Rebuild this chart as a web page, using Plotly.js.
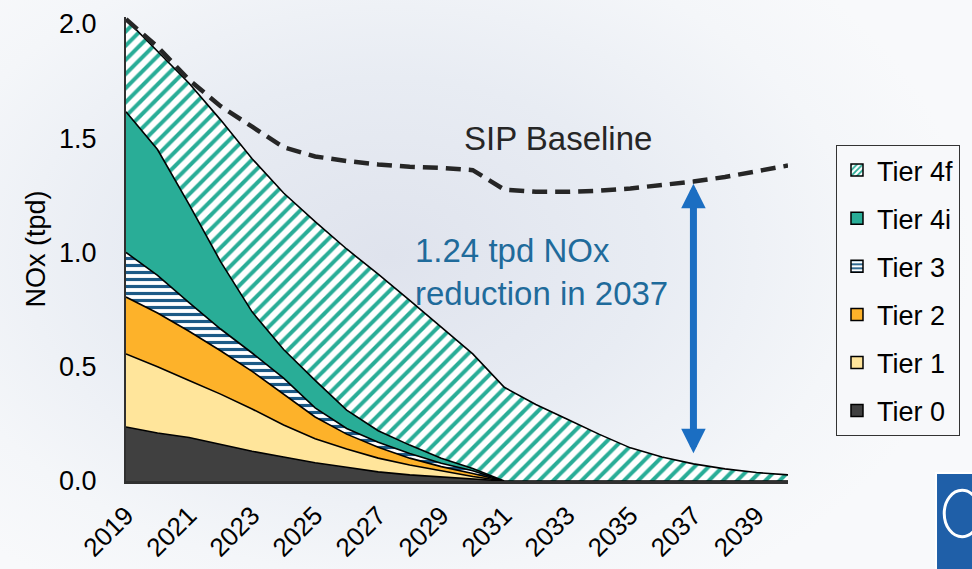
<!DOCTYPE html>
<html>
<head>
<meta charset="utf-8">
<script src="https://cdn.plot.ly/plotly-3.0.1.min.js"></script>
<style>
  html, body { margin: 0; padding: 0; }
  body {
    width: 972px; height: 569px; overflow: hidden;
    background: radial-gradient(ellipse 60% 70% at 40% 45%, #dfe3ed 0%, #e8ecf3 45%, #f4f6f9 80%, #f8f9fb 100%);
  }
  #chart { width: 972px; height: 569px; }
</style>
</head>
<body>
<div id="chart"></div>
<script>
// ---- data ----
const years = [2019,2020,2021,2022,2023,2024,2025,2026,2027,2028,2029,2030,
               2031,2032,2033,2034,2035,2036,2037,2038,2039,2040];
const tickYears = [2019,2021,2023,2025,2027,2029,2031,2033,2035,2037,2039];
const yTicks = [0, 0.5, 1.0, 1.5, 2.0];

const tier0  = [0.236,0.21,0.19,0.16,0.13,0.105,0.08,0.06,0.04,0.027,0.018,0.01,0,0,0,0,0,0,0,0,0,0];
const tier1  = [0.32,0.29,0.25,0.22,0.185,0.14,0.105,0.08,0.06,0.043,0.027,0.01,0,0,0,0,0,0,0,0,0,0];
const tier2  = [0.249,0.235,0.215,0.19,0.165,0.135,0.095,0.065,0.048,0.03,0.018,0.013,0,0,0,0,0,0,0,0,0,0];
const tier3  = [0.195,0.165,0.125,0.095,0.08,0.07,0.04,0.025,0.022,0.02,0.015,0.012,0,0,0,0,0,0,0,0,0,0];
const tier4i = [0.615,0.55,0.43,0.295,0.18,0.125,0.12,0.08,0.05,0.037,0.022,0.01,0,0,0,0,0,0,0,0,0,0];
const tier4f = [0.405,0.43,0.53,0.62,0.67,0.685,0.695,0.705,0.685,0.633,0.575,0.501,0.41,0.335,0.27,0.205,0.145,0.105,0.075,0.053,0.037,0.027];
const sipBaseline = [2.02,1.90,1.755,1.64,1.55,1.46,1.42,1.40,1.385,1.375,1.37,1.36,1.275,1.265,1.265,1.27,1.28,1.295,1.31,1.33,1.355,1.38];

const arrowYear = 2037;
const arrowTop = 1.30;
const arrowBottom = 0.115;

// ---- styles ----
const FONT = 'Liberation Sans, Arial, sans-serif';
const TEAL = '#29ad97';
const NAVY = '#1c5a86';
const ORANGE = '#fdb22a';
const LIGHTY = '#ffe59b';
const DARK = '#404040';

const tiers = [
  {name: 'Tier 0',  y: tier0,  color: DARK},
  {name: 'Tier 1',  y: tier1,  color: LIGHTY},
  {name: 'Tier 2',  y: tier2,  color: ORANGE},
  {name: 'Tier 3',  y: tier3,  color: '#ffffff', pattern: {shape: '-', fgcolor: NAVY, bgcolor: '#ffffff', size: 7, solidity: 0.45}},
  {name: 'Tier 4i', y: tier4i, color: TEAL},
  {name: 'Tier 4f', y: tier4f, color: '#ffffff', pattern: {shape: '/', fgcolor: TEAL, bgcolor: '#ffffff', size: 10, solidity: 0.4}}
];

const traces = [];
tiers.forEach(t => {
  const tr = {
    type: 'scatter', mode: 'lines', x: years, y: t.y, name: t.name,
    stackgroup: 'one', line: {color: '#000000', width: 1.6},
    fillcolor: t.color, showlegend: false, hoverinfo: 'skip'
  };
  if (t.pattern) tr.fillpattern = t.pattern;
  traces.push(tr);
});

traces.push({
  type: 'scatter', mode: 'lines', x: years, y: sipBaseline, name: 'SIP Baseline',
  line: {color: '#262626', width: 4.5, dash: '15px,8px'}, showlegend: false
});

// legend entries (square swatches; no bar is drawn since the value is empty), top tier first
tiers.slice().reverse().forEach((t, i) => {
  const m = {color: t.color, line: {color: '#000000', width: 1.5}};
  if (t.pattern) m.pattern = {shape: t.pattern.shape, fgcolor: t.pattern.fgcolor, bgcolor: '#ffffff', size: 5, solidity: 0.45};
  traces.push({type: 'bar', x: [years[0]], y: [null], name: t.name, marker: m,
               legendgroup: 'g' + i, legendrank: i + 1, showlegend: true, hoverinfo: 'skip'});
});

const layout = {
  width: 972, height: 569,
  margin: {l: 126, r: 184, t: 17, b: 88},
  paper_bgcolor: 'rgba(0,0,0,0)', plot_bgcolor: 'rgba(0,0,0,0)',
  font: {family: FONT, color: '#000000'},
  showlegend: true,
  xaxis: {
    type: 'linear', range: [2019, 2040], tickvals: tickYears, ticktext: tickYears.map(String),
    tickangle: -45, tickfont: {size: 26, family: FONT, color: '#000'},
    ticks: 'outside', ticklen: 6, tickcolor: 'rgba(0,0,0,0)',
    showgrid: false, zeroline: false, showline: true, linecolor: '#303030', linewidth: 3
  },
  yaxis: {
    range: [0, 2.03], tickvals: yTicks, tickformat: '.1f',
    tickfont: {size: 27, family: FONT, color: '#000'},
    ticks: 'outside', ticklen: 22, tickcolor: 'rgba(0,0,0,0)',
    showgrid: false, zeroline: false, showline: true, linecolor: '#303030', linewidth: 2,
    title: {text: 'NOx (tpd)', font: {size: 27, family: FONT, color: '#000'}, standoff: 6}
  },
  legend: {
    x: 1.0725, y: 0.724, xanchor: 'left', yanchor: 'top',
    bgcolor: '#f7f8fa', bordercolor: '#333333', borderwidth: 1,
    font: {size: 27, family: FONT, color: '#000'},
    traceorder: 'grouped', tracegroupgap: 10, itemwidth: 30
  },
  annotations: [
    {x: 2032.7, y: 1.50, xref: 'x', yref: 'y', text: 'SIP Baseline', showarrow: false,
     font: {size: 33, family: FONT, color: '#262626'}},
    {x: 2028.1, y: 0.915, xref: 'x', yref: 'y', text: '1.24 tpd NOx<br>reduction in 2037',
     showarrow: false, xanchor: 'left', yanchor: 'middle', align: 'left',
     font: {size: 33, family: FONT, color: '#1f6b9b'}},
    {x: arrowYear, y: arrowTop, ax: arrowYear, ay: arrowBottom, xref: 'x', yref: 'y', axref: 'x', ayref: 'y',
     text: '', showarrow: true, arrowhead: 2, startarrowhead: 2, arrowside: 'end+start',
     arrowwidth: 7, arrowsize: 0.7, startarrowsize: 0.7, arrowcolor: '#1b6ec2', standoff: 0, startstandoff: 0}
  ],
  shapes: [
    {type: 'rect', xref: 'paper', yref: 'paper', x0: 1.2236, x1: 1.32, y0: -0.25, y1: 0.017,
     fillcolor: '#1f5fa8', line: {color: '#ffffff', width: 2}, layer: 'above'},
    {type: 'circle', xref: 'paper', yref: 'paper', x0: 1.236, x1: 1.29, y0: -0.12, y1: -0.02,
     line: {color: '#ffffff', width: 3}, layer: 'above'}
  ]
};

Plotly.newPlot('chart', traces, layout, {displayModeBar: false, staticPlot: true});
</script>
</body>
</html>
